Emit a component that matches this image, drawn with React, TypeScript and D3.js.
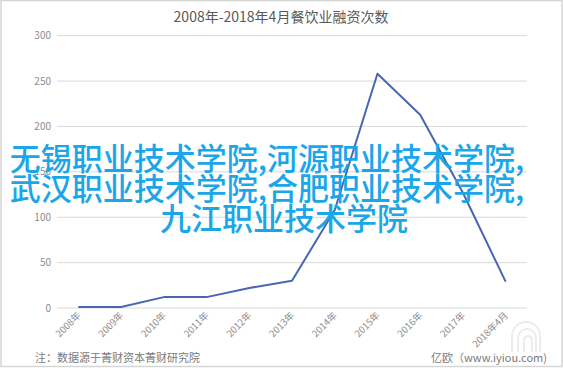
import React from "react";
import * as d3 from "d3";

const categories = ["2008年", "2009年", "2010年", "2011年", "2012年", "2013年", "2014年", "2015年", "2016年", "2017年", "2018年4月"];
const values = [1, 1, 12, 12, 22, 30, 108, 258, 213, 127, 29];
const yTicks = [0, 50, 100, 150, 200, 250, 300];
const title = "2008年-2018年4月餐饮业融资次数";
const overlayLines = ["无锡职业技术学院,河源职业技术学院,", "武汉职业技术学院,合肥职业技术学院,", "九江职业技术学院"];
const noteLeft = "注：数据源于菁财资本菁财研究院";
const noteRight = "亿欧（www.iyiou.com)";

const FONT = "'Noto Sans CJK SC', 'Noto Sans', sans-serif";

export default function App() {
  const W = 563, H = 370;
  const x = d3.scaleBand<string>().domain(categories).range([57, 527]);
  const y = d3.scaleLinear().domain([0, 300]).range([308, 35.7]);
  const cx = (c: string) => (x(c) as number) + x.bandwidth() / 2;
  const line = d3.line<number>().x((_, i) => cx(categories[i])).y((d) => y(d));
  const overlayCenters = [267, 267, 284];
  const overlayY = [170, 200, 230];

  return (
    <svg width={W} height={H} style={{ position: "fixed", left: 0, top: 0, background: "#fff" }} fontFamily={FONT}>
      <rect x={0} y={0} width={W} height={H} fill="#fff" />
      <rect x={1} y={0.5} width={561} height={366} fill="none" stroke="#d6d6d6" strokeWidth={1.5} />
      <text x={281} y={22} textAnchor="middle" fontSize={14} fill="#595959">{title}</text>
      {yTicks.map((t) => (
        <g key={t}>
          <line x1={57} x2={527} y1={y(t)} y2={y(t)} stroke="#d9d9d9" strokeWidth={1} />
          <text x={51} y={y(t) + 3.5} textAnchor="end" fontSize={10} fill="#8c8c8c">{t}</text>
        </g>
      ))}
      {categories.map((c) => (
        <text key={c} transform={`translate(${cx(c) + 3},${316}) rotate(-45)`} textAnchor="end" fontSize={9.5} fill="#8c8c8c">{c}</text>
      ))}
      {/* watermark */}
      <g fill="none" stroke="#ececec" strokeWidth={2}>
        <path d="M512,352 L512,336 A14,14 0 0 1 540,336 L540,352" />
        <path d="M518,352 L518,338 A9,9 0 0 1 536,338 L536,352" />
        <path d="M524,352 L524,340 A4,4 0 0 1 532,340 L532,352" />
      </g>
      <path d={line(values) || ""} fill="none" stroke="#4a66b0" strokeWidth={2} strokeLinejoin="round" />
      <text x={35} y={362} fontSize={11} fill="#7a7a7a">{noteLeft}</text>
      <text x={547} y={362} textAnchor="end" fontSize={11} fill="#7a7a7a">{noteRight}</text>
      {overlayLines.map((l, i) => (
        <text key={i} x={overlayCenters[i]} y={overlayY[i]} textAnchor="middle" fontSize={31} fontWeight={500} fill="#1aa6e8">{l}</text>
      ))}
    </svg>
  );
}
